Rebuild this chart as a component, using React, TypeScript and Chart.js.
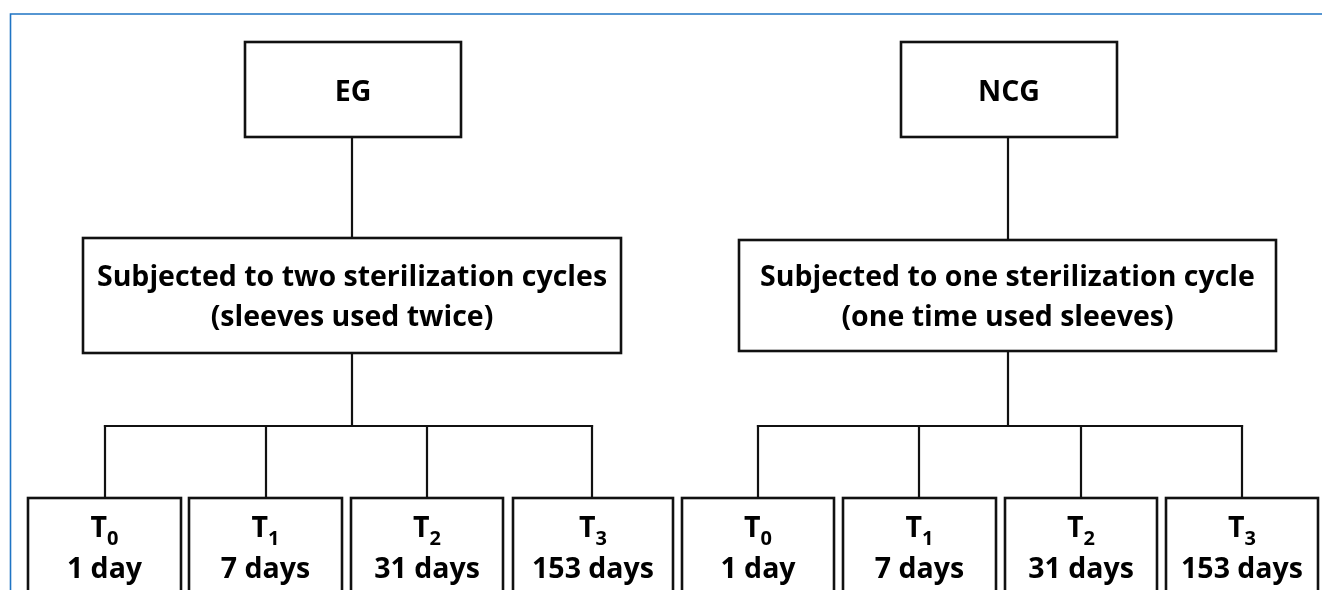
import { useEffect, useRef } from "react";
import { Chart, registerables } from "chart.js";

Chart.register(...registerables);

// ---- content ----
const groupLabels = ["EG", "NCG"];
const treatmentLines = [
  ["Subjected to two sterilization cycles", "(sleeves used twice)"],
  ["Subjected to one sterilization cycle", "(one time used sleeves)"],
];
const timeSymbols = ["T", "T", "T", "T"];
const timeSubscripts = ["0", "1", "2", "3"];
const durations = ["1 day", "7 days", "31 days", "153 days"];

// ---- layout (in scale units, x: 0..1322, y: 0..590 downward) ----
const topBoxX = [[245, 461], [901, 1117]];
const topBoxY = [42, 137];
const midBoxX = [[83, 621], [739, 1276]];
const midBoxY = [[238, 353], [240, 351]];
const trunkX = [352, 1008];
const barY = 426;
const leafBoxX = [
  [[28, 181], [189, 342], [351, 503], [513, 673]],
  [[682, 834], [843, 996], [1005, 1157], [1166, 1318]],
];
const leafDropX = [
  [105, 266, 427, 592],
  [758, 919, 1081, 1242],
];
const leafTopY = 498;
const leafBottomY = 660;

const W = 1322;
const H = 590;
const FONT = "'Open Sans', Lato, sans-serif";
const MAIN = 28.5;
const SUB = 20;

function buildSegments() {
  const segs: { x: number; y: number }[][] = [];
  for (let g = 0; g < 2; g++) {
    segs.push([{ x: trunkX[g], y: topBoxY[1] }, { x: trunkX[g], y: midBoxY[g][0] }]);
    segs.push([{ x: trunkX[g], y: midBoxY[g][1] }, { x: trunkX[g], y: barY }]);
    const drops = leafDropX[g];
    segs.push([{ x: drops[0], y: barY }, { x: drops[drops.length - 1], y: barY }]);
    for (const dx of drops) {
      segs.push([{ x: dx, y: barY }, { x: dx, y: leafTopY }]);
    }
  }
  return segs;
}

const flowPlugin = {
  id: "flow",
  beforeDatasetsDraw(chart: any) {
    const ctx = chart.ctx;
    const xs = chart.scales.x;
    const ys = chart.scales.y;
    ctx.save();
    ctx.strokeStyle = "#1f74c4";
    ctx.lineWidth = 1.6;
    const fx = xs.getPixelForValue(10.5);
    const fy = ys.getPixelForValue(14);
    ctx.beginPath();
    ctx.moveTo(fx, ys.getPixelForValue(H + 10));
    ctx.lineTo(fx, fy);
    ctx.lineTo(xs.getPixelForValue(W + 10), fy);
    ctx.stroke();
    ctx.restore();
  },
  afterDatasetsDraw(chart: any) {
    const ctx = chart.ctx;
    const xs = chart.scales.x;
    const ys = chart.scales.y;
    const px = (v: number) => xs.getPixelForValue(v);
    const py = (v: number) => ys.getPixelForValue(v);
    const rect = (x0: number, x1: number, y0: number, y1: number) => {
      const a = Math.round(px(x0));
      const b = Math.round(px(x1));
      const c = Math.round(py(y0));
      const d = Math.round(py(y1));
      ctx.fillStyle = "#ffffff";
      ctx.fillRect(a, c, b - a, d - c);
      ctx.strokeStyle = "#111111";
      ctx.lineWidth = 2.6;
      ctx.strokeRect(a, c, b - a, d - c);
    };
    ctx.save();
    ctx.textAlign = "center";
    ctx.textBaseline = "alphabetic";
    for (let g = 0; g < 2; g++) {
      const [tx0, tx1] = topBoxX[g];
      rect(tx0, tx1, topBoxY[0], topBoxY[1]);
      ctx.fillStyle = "#000";
      ctx.font = `bold ${MAIN}px ${FONT}`;
      ctx.fillText(groupLabels[g], px((tx0 + tx1) / 2), py((topBoxY[0] + topBoxY[1]) / 2 + 11));

      const [mx0, mx1] = midBoxX[g];
      const [my0, my1] = midBoxY[g];
      rect(mx0, mx1, my0, my1);
      ctx.fillStyle = "#000";
      ctx.font = `bold ${MAIN}px ${FONT}`;
      const mc = (my0 + my1) / 2;
      ctx.fillText(treatmentLines[g][0], px((mx0 + mx1) / 2), py(mc - 9.5));
      ctx.fillText(treatmentLines[g][1], px((mx0 + mx1) / 2), py(mc + 30.5));

      leafBoxX[g].forEach(([lx0, lx1], i) => {
        rect(lx0, lx1, leafTopY, leafBottomY);
        ctx.fillStyle = "#000";
        const cx = px((lx0 + lx1) / 2);
        ctx.font = `bold ${MAIN}px ${FONT}`;
        const tw = ctx.measureText(timeSymbols[i]).width;
        ctx.font = `bold ${SUB}px ${FONT}`;
        const sw = ctx.measureText(timeSubscripts[i]).width;
        const start = cx - (tw + sw) / 2;
        ctx.textAlign = "left";
        ctx.font = `bold ${MAIN}px ${FONT}`;
        ctx.fillText(timeSymbols[i], start, py(537));
        ctx.font = `bold ${SUB}px ${FONT}`;
        ctx.fillText(timeSubscripts[i], start + tw, py(545));
        ctx.textAlign = "center";
        ctx.font = `bold ${MAIN}px ${FONT}`;
        ctx.fillText(durations[i], cx, py(578));
      });
    }
    ctx.restore();
  },
};

export default function App() {
  const canvasRef = useRef<HTMLCanvasElement | null>(null);

  useEffect(() => {
    const canvas = canvasRef.current;
    if (!canvas) return;
    const segments = buildSegments();
    const chart = new Chart(canvas, {
      type: "scatter",
      data: {
        datasets: segments.map((seg) => ({
          data: seg,
          showLine: true,
          borderColor: "#111111",
          borderWidth: 2.2,
          borderCapStyle: "square",
          pointRadius: 0,
          pointHoverRadius: 0,
          fill: false,
        })),
      },
      options: {
        responsive: false,
        devicePixelRatio: 1,
        animation: false,
        events: [],
        layout: { padding: 0 },
        plugins: { legend: { display: false }, tooltip: { enabled: false } },
        scales: {
          x: { type: "linear", min: 0, max: W, display: false },
          y: { type: "linear", min: 0, max: H, reverse: true, display: false },
        },
      },
      plugins: [flowPlugin],
    } as any);
    return () => chart.destroy();
  }, []);

  return (
    <div style={{ position: "fixed", left: 0, top: 0, width: W, height: H, background: "#ffffff" }}>
      <canvas ref={canvasRef} width={W} height={H} style={{ display: "block" }} />
    </div>
  );
}
